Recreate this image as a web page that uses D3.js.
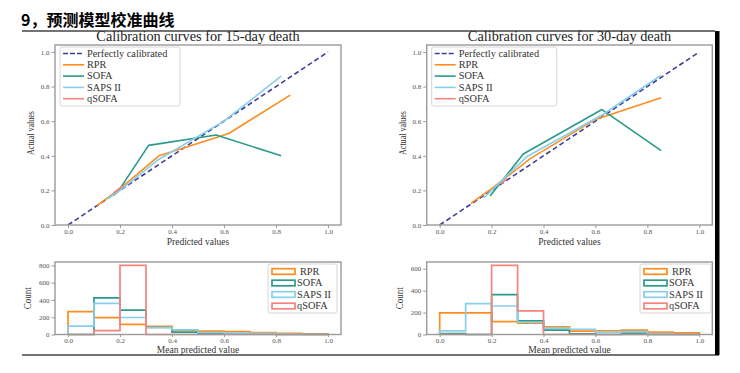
<!DOCTYPE html>
<html>
<head>
<meta charset="utf-8">
<script src="https://cdn.jsdelivr.net/npm/d3@7"></script>
<style>
  body { margin: 0; background: #fff; }
  svg { display: block; }
</style>
</head>
<body>
<div id="chart"></div>
<script>
// ---- data ----
const seriesNames = ["RPR", "SOFA", "SAPS II", "qSOFA"];
const seriesColors = ["#ff8c1f", "#2a9a8a", "#87cfea", "#f4837d"];
const binEdges = [0, 0.1, 0.2, 0.3, 0.4, 0.5, 0.6, 0.7, 0.8, 0.9, 1.0];
const curveTicks = [0, 0.2, 0.4, 0.6, 0.8, 1.0];

// calibration curves [mean predicted, fraction of positives]
const rpr15 = [[0.11, 0.11], [0.2, 0.21], [0.35, 0.40], [0.58, 0.51], [0.62, 0.53], [0.855, 0.75]];
const sofa15 = [[0.175, 0.17], [0.2, 0.21], [0.31, 0.46], [0.57, 0.52], [0.82, 0.40]];
const saps15 = [[0.15, 0.15], [0.2, 0.2], [0.35, 0.38], [0.6, 0.6], [0.82, 0.86]];
const qsofa15 = [[0.175, 0.185], [0.21, 0.225]];

const rpr30 = [[0.12, 0.125], [0.2, 0.21], [0.35, 0.385], [0.6, 0.61], [0.853, 0.735]];
const sofa30 = [[0.194, 0.167], [0.322, 0.41], [0.625, 0.667], [0.853, 0.43]];
const saps30 = [[0.171, 0.158], [0.335, 0.394], [0.63, 0.64], [0.853, 0.865]];
const qsofa30 = [[0.235, 0.235], [0.26, 0.27]];

// histogram counts per bin
const rprHist15 = [265, 195, 118, 95, 50, 40, 35, 23, 12, 8];
const sofaHist15 = [0, 425, 282, 81, 28, 15, 10, 8, 0, 0];
const sapsHist15 = [97, 360, 197, 81, 55, 23, 15, 12, 6, 0];
const qsofaHist15 = [0, 46, 800, 0, 0, 0, 0, 0, 0, 0];

const rprHist30 = [197, 197, 118, 103, 70, 30, 33, 40, 21, 15];
const sofaHist30 = [9, 0, 364, 124, 40, 6, 0, 12, 0, 0];
const sapsHist30 = [33, 282, 260, 112, 58, 48, 21, 27, 9, 0];
const qsofaHist30 = [0, 0, 630, 215, 0, 0, 0, 0, 0, 0];

const histTicks15 = [0, 200, 400, 600, 800];
const histTicks30 = [0, 200, 400, 600];

// ---- drawing ----
const W = 740, H = 373;
const serif = "'Liberation Serif', 'DejaVu Serif', serif";
const frameColor = "#9a9a9a";
const tickText = "#555";

const svg = d3.select("#chart").append("svg")
  .attr("width", W).attr("height", H);

svg.append("text")
  .attr("x", 21).attr("y", 26)
  .attr("font-family", "'Noto Sans CJK SC', sans-serif")
  .attr("font-weight", "bold").attr("font-size", 16)
  .text("9，预测模型校准曲线");

// page frame lines
svg.append("line").attr("x1", 22).attr("x2", 715).attr("y1", 31).attr("y2", 31)
  .attr("stroke", "#444").attr("stroke-width", 1.3);
svg.append("line").attr("x1", 22).attr("x2", 719).attr("y1", 355).attr("y2", 355)
  .attr("stroke", "#444").attr("stroke-width", 1.3);
svg.append("rect").attr("x", 715).attr("y", 31).attr("width", 4.5).attr("height", 324)
  .attr("fill", "#000");

function styleAxis(g, fontSize) {
  g.select(".domain").remove();
  g.selectAll(".tick line").attr("stroke", frameColor).attr("stroke-width", 1);
  g.selectAll(".tick text").attr("fill", tickText)
    .attr("font-family", serif).attr("font-size", fontSize);
}

function frame(left, top, right, bottom) {
  svg.append("rect")
    .attr("x", left).attr("y", top)
    .attr("width", right - left).attr("height", bottom - top)
    .attr("fill", "none").attr("stroke", frameColor).attr("stroke-width", 1.4);
}

function calibrationPanel(opt) {
  const { left, right, top, bottom, title, curves } = opt;
  const x = d3.scaleLinear().domain([-0.05, 1.05]).range([left, right]);
  const y = d3.scaleLinear().domain([0, 1.04]).range([bottom, top]);

  const line = d3.line().x(d => x(d[0])).y(d => y(d[1]));

  const clip = "clip" + Math.round(left);
  svg.append("clipPath").attr("id", clip).append("rect")
    .attr("x", left).attr("y", top).attr("width", right - left).attr("height", bottom - top);
  const plot = svg.append("g").attr("clip-path", `url(#${clip})`);

  plot.append("path").datum([[0, 0], [1, 1]])
    .attr("d", line).attr("fill", "none")
    .attr("stroke", "#3e3e9c").attr("stroke-width", 1.6)
    .attr("stroke-dasharray", "5,3");

  curves.forEach((c, i) => {
    plot.append("path").datum(c)
      .attr("d", line).attr("fill", "none")
      .attr("stroke", seriesColors[i]).attr("stroke-width", 1.6)
      .attr("stroke-linejoin", "round");
  });

  frame(left, top, right, bottom);

  const gx = svg.append("g").attr("transform", `translate(0,${bottom})`)
    .call(d3.axisBottom(x).tickValues(curveTicks).tickFormat(d3.format(".1f")).tickSize(3).tickPadding(1.5));
  styleAxis(gx, 7);
  const gy = svg.append("g").attr("transform", `translate(${left},0)`)
    .call(d3.axisLeft(y).tickValues(curveTicks).tickFormat(d3.format(".1f")).tickSize(3.5).tickPadding(2));
  styleAxis(gy, 7);

  svg.append("text")
    .attr("x", (left + right) / 2).attr("y", top - 4)
    .attr("text-anchor", "middle")
    .attr("font-family", serif).attr("font-size", 14.3).attr("fill", "#222")
    .text(title);
  svg.append("text")
    .attr("x", (left + right) / 2).attr("y", bottom + 20)
    .attr("text-anchor", "middle")
    .attr("font-family", serif).attr("font-size", 9.5).attr("fill", "#333")
    .text("Predicted values");
  svg.append("text")
    .attr("transform", `translate(${left - 21},${(top + bottom) / 2 - 2}) rotate(-90)`)
    .attr("text-anchor", "middle")
    .attr("font-family", serif).attr("font-size", 10).attr("fill", "#333")
    .attr("textLength", 44).attr("lengthAdjust", "spacingAndGlyphs")
    .text("Actual values");

  // legend
  const lg = svg.append("g").attr("transform", `translate(${left + 5},${top + 2})`);
  lg.append("rect").attr("width", opt.legendW).attr("height", 59).attr("rx", 2)
    .attr("fill", "#fff").attr("fill-opacity", 0.85)
    .attr("stroke", "#d6d6d6").attr("stroke-width", 1);
  const labels = ["Perfectly calibrated"].concat(seriesNames);
  const colors = ["#3e3e9c"].concat(seriesColors);
  labels.forEach((lab, i) => {
    const yy = 6.5 + i * 11.3;
    lg.append("line").attr("x1", 3).attr("x2", 24).attr("y1", yy).attr("y2", yy)
      .attr("stroke", colors[i]).attr("stroke-width", 1.6)
      .attr("stroke-dasharray", i === 0 ? "5,2" : null);
    lg.append("text").attr("x", 27).attr("y", yy + 3.3)
      .attr("font-family", serif).attr("font-size", 10.3).attr("fill", "#333")
      .text(lab);
  });
}

function histPanel(opt) {
  const { left, right, top, bottom, hists, yMax, yTicks } = opt;
  const x = d3.scaleLinear().domain([-0.05, 1.05]).range([left, right]);
  const y = d3.scaleLinear().domain([0, yMax]).range([bottom, top]);
  const line = d3.line().x(d => x(d[0])).y(d => y(d[1]));

  hists.forEach((counts, i) => {
    const pts = [[binEdges[0], 0]];
    counts.forEach((c, k) => {
      pts.push([binEdges[k], c]);
      pts.push([binEdges[k + 1], c]);
    });
    pts.push([binEdges[binEdges.length - 1], 0]);
    svg.append("path").datum(pts)
      .attr("d", line).attr("fill", "none")
      .attr("stroke", seriesColors[i]).attr("stroke-width", 1.7);
  });

  frame(left, top, right, bottom);

  const gx = svg.append("g").attr("transform", `translate(0,${bottom})`)
    .call(d3.axisBottom(x).tickValues(curveTicks).tickFormat(d3.format(".1f")).tickSize(2.5).tickPadding(1));
  styleAxis(gx, 7);
  const gy = svg.append("g").attr("transform", `translate(${left},0)`)
    .call(d3.axisLeft(y).tickValues(yTicks).tickFormat(d3.format("d")).tickSize(3.5).tickPadding(2));
  styleAxis(gy, 7);

  svg.append("text")
    .attr("x", (left + right) / 2).attr("y", bottom + 18)
    .attr("text-anchor", "middle")
    .attr("font-family", serif).attr("font-size", 9.5).attr("fill", "#333")
    .text("Mean predicted value");
  svg.append("text")
    .attr("transform", `translate(${left - 24},${(top + bottom) / 2}) rotate(-90)`)
    .attr("text-anchor", "middle")
    .attr("font-family", serif).attr("font-size", 10).attr("fill", "#333")
    .attr("textLength", 22).attr("lengthAdjust", "spacingAndGlyphs")
    .text("Count");

  const lg = svg.append("g").attr("transform", `translate(${opt.legendX},${top + 2})`);
  lg.append("rect").attr("width", opt.legendW).attr("height", 49).attr("rx", 2)
    .attr("fill", "#fff").attr("stroke", "#d6d6d6").attr("stroke-width", 1);
  seriesNames.forEach((lab, i) => {
    const yy = 7.5 + i * 11.5;
    lg.append("rect").attr("x", 4).attr("y", yy - 2.8).attr("width", 23).attr("height", 5.6)
      .attr("fill", "none").attr("stroke", seriesColors[i]).attr("stroke-width", 1.7);
    lg.append("text").attr("x", i === 0 ? 32 : 29).attr("y", yy + 3.3)
      .attr("font-family", serif).attr("font-size", 10.3).attr("fill", "#333")
      .text(lab);
  });
}

calibrationPanel({
  left: 55, right: 341, top: 45, bottom: 225,
  title: "Calibration curves for 15-day death",
  curves: [rpr15, sofa15, saps15, qsofa15], legendW: 120
});
calibrationPanel({
  left: 426.7, right: 712.3, top: 45, bottom: 225,
  title: "Calibration curves for 30-day death",
  curves: [rpr30, sofa30, saps30, qsofa30], legendW: 125
});
histPanel({
  left: 55, right: 341, top: 262, bottom: 334.5,
  hists: [rprHist15, sofaHist15, sapsHist15, qsofaHist15],
  yMax: 840, yTicks: histTicks15, legendX: 268, legendW: 69
});
histPanel({
  left: 426.7, right: 712.3, top: 262, bottom: 334.5,
  hists: [rprHist30, sofaHist30, sapsHist30, qsofaHist30],
  yMax: 661.5, yTicks: histTicks30, legendX: 640, legendW: 71
});
</script>
</body>
</html>
